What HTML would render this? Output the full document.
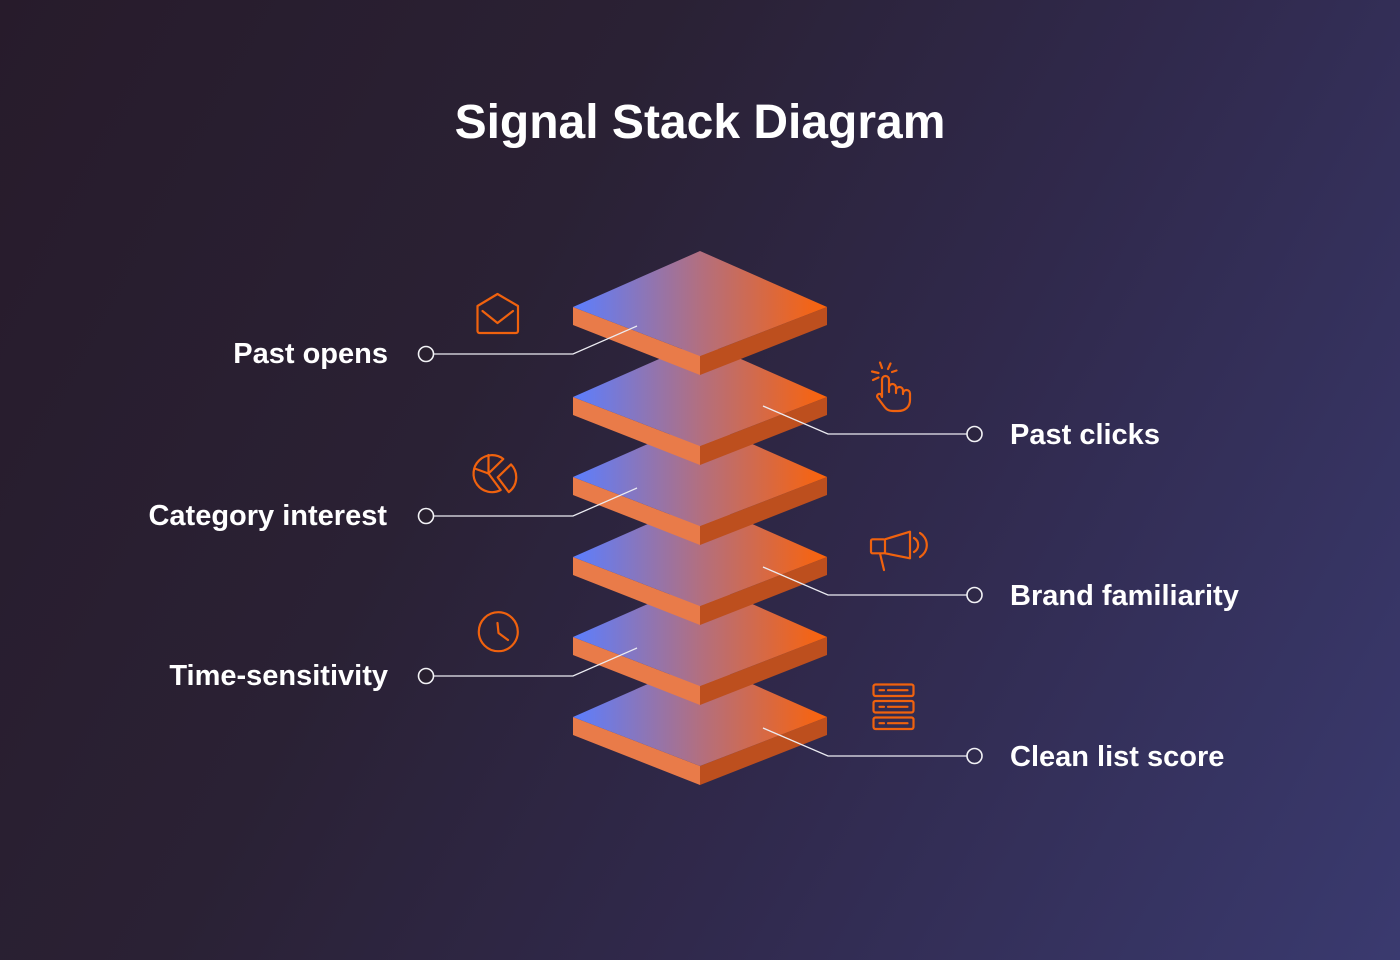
<!DOCTYPE html>
<html>
<head>
<meta charset="utf-8">
<style>
html,body{margin:0;padding:0;}
body{width:1400px;height:960px;overflow:hidden;background:linear-gradient(118deg,#271b2b 0%,#2a2134 35%,#30294c 62%,#3a3a6f 100%);}
svg{display:block;}
text{font-family:"Liberation Sans",sans-serif;fill:#ffffff;}
</style>
</head>
<body>
<svg width="1400" height="960" viewBox="0 0 1400 960" xmlns="http://www.w3.org/2000/svg">
  <defs>
    <linearGradient id="topg" gradientUnits="userSpaceOnUse" x1="573" y1="0" x2="827" y2="0">
      <stop offset="0" stop-color="#5b7eff"/>
      <stop offset="0.5" stop-color="#b26f80"/>
      <stop offset="1" stop-color="#fb6309"/>
    </linearGradient>
    <g id="layer">
      <polygon points="573,307 700,356 700,375 573,325" fill="#e97b49"/>
      <polygon points="827,307 700,356 700,375 827,325" fill="#bd4f1e"/>
      <polygon points="700,251 827,307 700,356 573,307" fill="url(#topg)"/>
    </g>
  </defs>

  <text x="700" y="138" text-anchor="middle" font-size="48" font-weight="bold" letter-spacing="0">Signal Stack Diagram</text>

  <!-- layers bottom to top -->
  <use href="#layer" transform="translate(0,410)"/>
  <use href="#layer" transform="translate(0,330)"/>
  <use href="#layer" transform="translate(0,250)"/>
  <use href="#layer" transform="translate(0,170)"/>
  <use href="#layer" transform="translate(0,90)"/>
  <use href="#layer" transform="translate(0,0)"/>

  <!-- connectors -->
  <g fill="none" stroke="#ececf2" stroke-width="1.3">
    <polyline points="637,326 573,354 433,354"/>
    <polyline points="637,488 573,516 433,516"/>
    <polyline points="637,648 573,676 433,676"/>
    <polyline points="763,406 828,434 967,434"/>
    <polyline points="763,567 828,595 967,595"/>
    <polyline points="763,728 828,756 967,756"/>
  </g>
  <g fill="#29202f" stroke="#f2f2f6" stroke-width="1.6">
    <circle cx="426" cy="354" r="7.5"/>
    <circle cx="426" cy="516" r="7.5"/>
    <circle cx="426" cy="676" r="7.5"/>
    <circle cx="974.5" cy="434" r="7.5" fill="#2c2540"/>
    <circle cx="974.5" cy="595" r="7.5" fill="#2e2847"/>
    <circle cx="974.5" cy="756" r="7.5" fill="#302b4e"/>
  </g>

  <!-- labels -->
  <g font-size="29" font-weight="bold">
    <text x="388" y="363" text-anchor="end">Past opens</text>
    <text x="387" y="525" text-anchor="end">Category interest</text>
    <text x="388" y="685" text-anchor="end">Time-sensitivity</text>
    <text x="1010" y="444">Past clicks</text>
    <text x="1010" y="605">Brand familiarity</text>
    <text x="1010" y="766">Clean list score</text>
  </g>

  <!-- icons -->
  <g fill="none" stroke="#f0620e" stroke-width="2.2" stroke-linecap="round" stroke-linejoin="round">
    <!-- envelope -->
    <path d="M477.5 306 L497.5 294 L518 306 V331 a2 2 0 0 1 -2 2 H479.5 a2 2 0 0 1 -2 -2 Z"/>
    <path d="M482.5 311 L497.5 323 L513 311"/>

    <!-- hand -->
    <path d="M880 362.5 L882 368"/>
    <path d="M890.5 363.5 L888 369"/>
    <path d="M872 371.5 L878.5 373"/>
    <path d="M892 372 L896.5 370.5"/>
    <path d="M873 380 L878.5 377.5"/>
    <path d="M882 397 V379.5 a3.5 3.5 0 0 1 7 0 V392 V387.5 a3.5 3.5 0 0 1 7 0 V393 V390.5 a3.5 3.5 0 0 1 7 0 V394 V393.5 a3.5 3.5 0 0 1 7 0 V400 c0 7 -5 11 -12 11 h-5 c-5 0 -7 -2 -9.5 -5.5 l-6 -8 c-1.5 -2.2 1.5 -5 3.5 -3 z"/>

    <!-- pie -->
    <path d="M488.5 473.5 L503.3 459 A18.5 18.5 0 1 0 500.7 490 Z"/>
    <path d="M488.5 473.5 V455"/>
    <path d="M488.5 473.5 L476 469"/>
    <path d="M497.7 477.3 L511 464.4 A18.5 18.5 0 0 1 508.8 492.1 Z"/>

    <!-- megaphone -->
    <rect x="871" y="539.3" width="14" height="14" rx="1.5"/>
    <path d="M885 539.3 L910 531.7 V558.3 L885 553.3"/>
    <path d="M880 553.5 L884 570"/>
    <path d="M914 538 A8 8 0 0 1 914 552"/>
    <path d="M920 533 A14 14 0 0 1 920 557"/>

    <!-- clock -->
    <circle cx="498.3" cy="631.7" r="19.5"/>
    <path d="M497.5 623 L498.5 633 L508 640"/>

    <!-- server -->
    <rect x="873.5" y="684.5" width="40" height="11.5" rx="2"/>
    <rect x="873.5" y="701" width="40" height="11.5" rx="2"/>
    <rect x="873.5" y="717.5" width="40" height="11.5" rx="2"/>
    <path d="M879.5 690.2 H884 M888 690.2 H907.5"/>
    <path d="M879.5 706.8 H884 M888 706.8 H907.5"/>
    <path d="M879.5 723.2 H884 M888 723.2 H907.5"/>
  </g>
</svg>
</body>
</html>
